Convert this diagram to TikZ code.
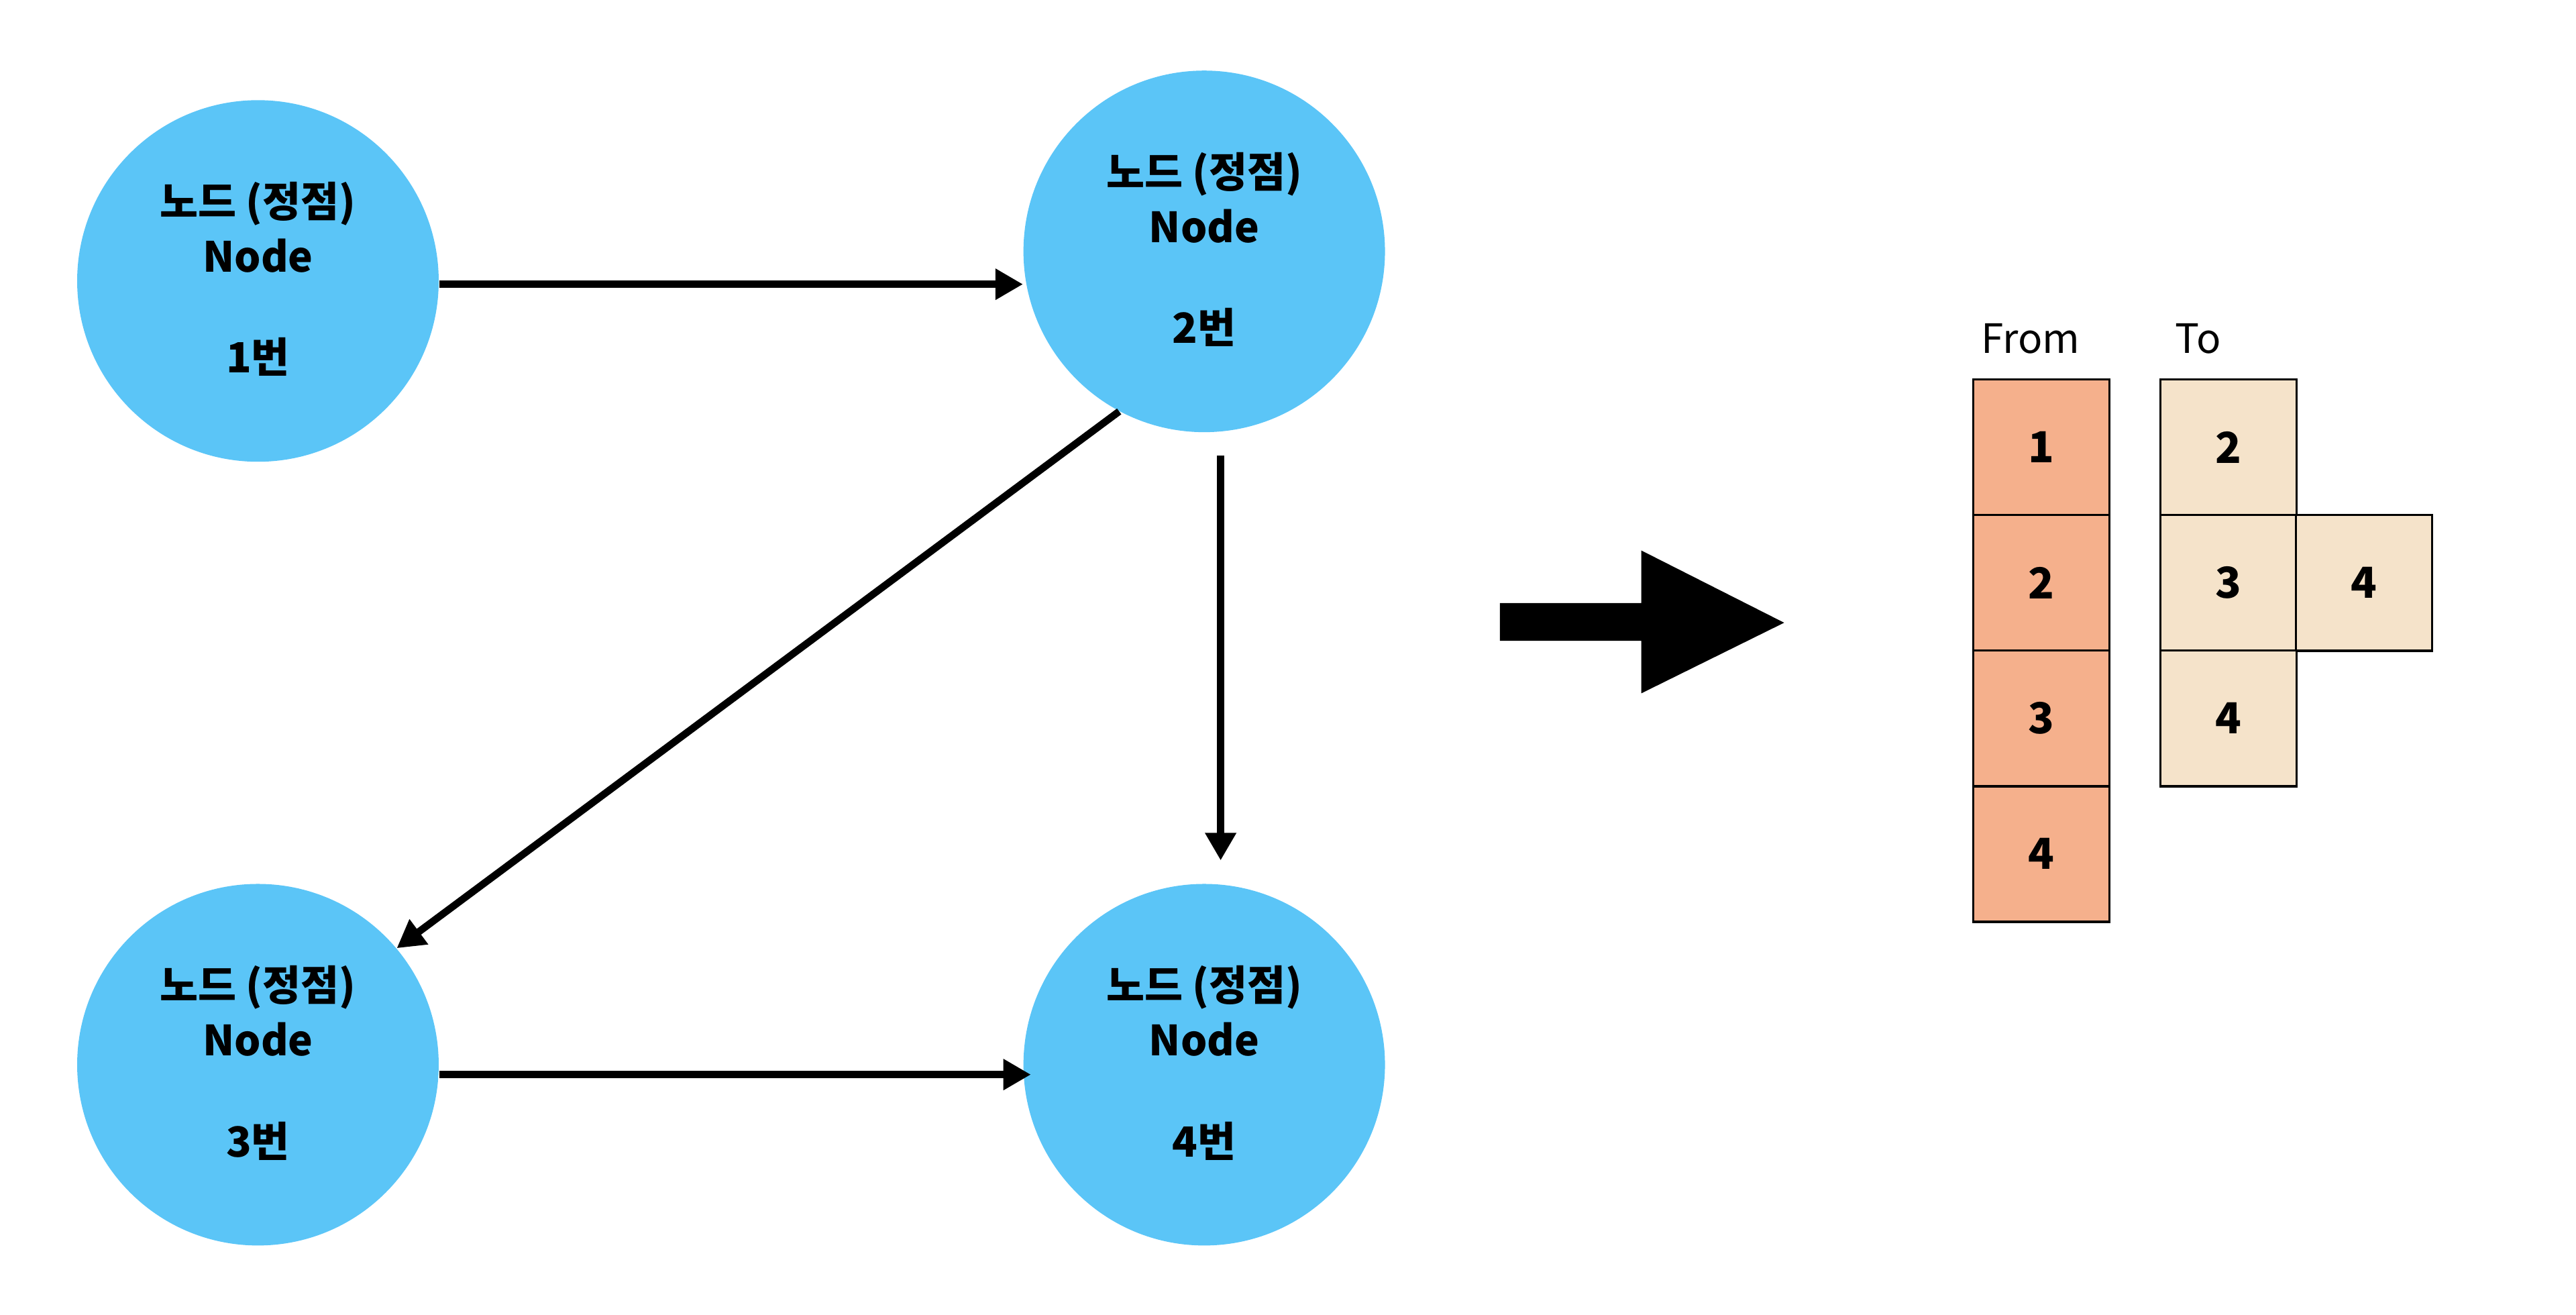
\documentclass[tikz,border=0pt]{standalone}
\usepackage{fontspec}
\newfontfamily\kr{Noto Sans CJK KR}
\usetikzlibrary{arrows.meta,calc}
\definecolor{nodeblue}{RGB}{91,197,247}
\definecolor{fromfill}{RGB}{245,176,140}
\definecolor{tofill}{RGB}{245,227,202}
\begin{document}
\begin{tikzpicture}[x=0.025cm,y=-0.025cm,
  vertex/.style={circle,fill=nodeblue,minimum size=5.5cm,inner sep=0pt},
  vtext/.style={font=\kr\bfseries\fontsize{18}{22}\selectfont,inner sep=0pt,anchor=base},
  arr/.style={line width=0.11cm,-{Triangle[width=0.45cm,length=0.42cm]}},
  fromcell/.style={draw,line width=1pt,fill=fromfill,minimum width=2.075cm,minimum height=2.0625cm,inner sep=0pt,font=\kr\bfseries\fontsize{18.5}{22}\selectfont},
  tocell/.style={fromcell,fill=tofill},
  hdr/.style={font=\kr\fontsize{17.5}{20}\selectfont,inner sep=0pt,anchor=base}]
\useasboundingbox (0,0) rectangle (1568,800);

% graph nodes
\node[vertex] (n1) at (157,171) {};
\node[vertex] (n2) at (733,153) {};
\node[vertex] (n3) at (157,648) {};
\node[vertex] (n4) at (733,648) {};

\foreach \n/\k in {n1/1,n2/2,n3/3,n4/4}{
  \node[vtext] (\n a) at ($(\n)+(0,-39)$) {노드 (정점)};
  \node[vtext] (\n b) at ($(\n)+(0,-5.5)$) {Node};
  \node[vtext] (\n c) at ($(\n)+(0,56)$) {{\k}번};
}

% connectors
\draw[arr] ([yshift=-0.05cm]n1.east) -- ([yshift=-0.05cm]n1.east -| n2.west);
\draw[arr] (n2.242) -- (n3.40);
\draw[arr,shorten <=0.35cm,shorten >=0.35cm] ([xshift=0.25cm]n2.south) -- ([xshift=0.25cm]n4.north);
\draw[arr,shorten >=-0.12cm] ([yshift=-0.15cm]n3.east) -- ([yshift=-0.15cm]n4.west);

% big arrow
\fill (913,367) -- (999,367) -- (999,335) -- (1086,379) -- (999,422) -- (999,390) -- (913,390) -- cycle;

% table
\node[hdr] (fromh) at (1236,215) {From};
\node[hdr] (toh) at (1338,215) {To};
\node[fromcell] (f1) at (1242.5,272.25) {1};
\node[fromcell] (f2) at (1242.5,354.75) {2};
\node[fromcell] (f3) at (1242.5,437.25) {3};
\node[fromcell] (f4) at (1242.5,519.75) {4};
\node[tocell] (t1) at (1356.5,272.25) {2};
\node[tocell] (t2) at (1356.5,354.75) {3};
\node[tocell] (t2b) at (1439,354.75) {4};
\node[tocell] (t3) at (1356.5,437.25) {4};
\end{tikzpicture}
\end{document}
